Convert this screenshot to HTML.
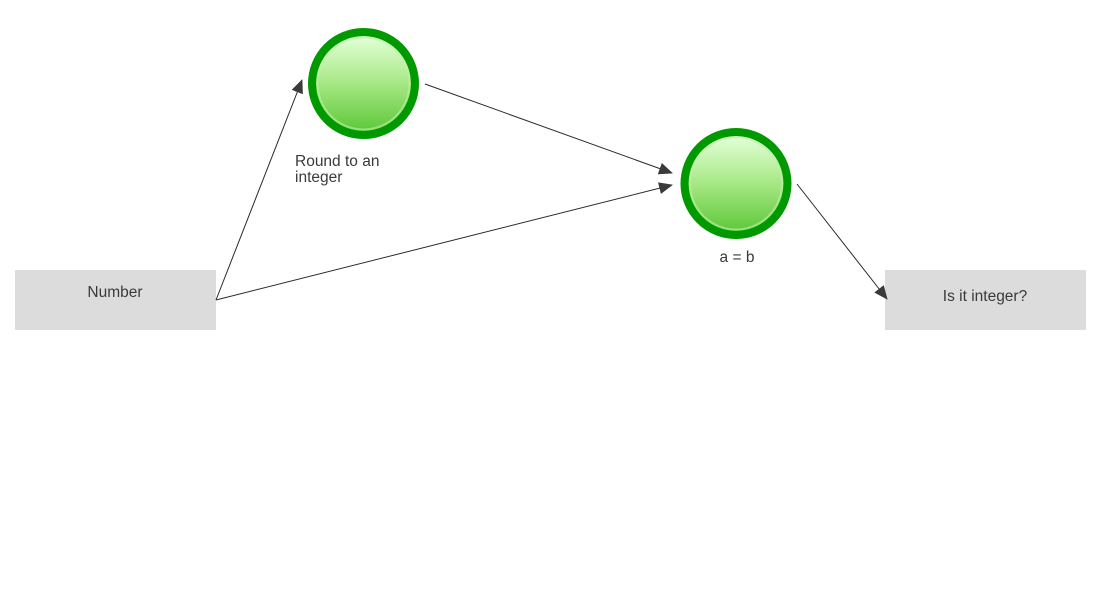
<!DOCTYPE html>
<html><head><meta charset="utf-8"><style>
html,body{margin:0;padding:0;background:#fff;width:1100px;height:600px;overflow:hidden}
svg{display:block}
text{font-family:"Liberation Sans",sans-serif;fill:#3a3a3a;font-size:15.5px}
</style></head><body>
<svg width="1100" height="600" viewBox="0 0 1100 600" xmlns="http://www.w3.org/2000/svg">
<defs>
<linearGradient id="g" x1="0" y1="0" x2="0" y2="1">
<stop offset="0" stop-color="#e4ffd8"/>
<stop offset="0.5" stop-color="#a6e884"/>
<stop offset="1" stop-color="#5ec83a"/>
</linearGradient>
<marker id="ah" viewBox="0 0 14 12" refX="13" refY="6" markerWidth="14" markerHeight="12" markerUnits="userSpaceOnUse" orient="auto">
<path d="M0,0 L14,6 L0,12 Z" fill="#3a3a3a"/>
</marker>
</defs>
<rect x="15" y="270" width="201" height="60" fill="#dcdcdc"/>
<rect x="885" y="270" width="201" height="60" fill="#dcdcdc"/>
<text x="115" y="297" text-anchor="middle">Number</text>
<text x="985" y="301" text-anchor="middle">Is it integer?</text>

<g stroke="#2a2a2a" stroke-width="1" fill="none">
<line x1="216" y1="300" x2="302" y2="80" marker-end="url(#ah)"/>
<line x1="216" y1="300" x2="672" y2="185" marker-end="url(#ah)"/>
<line x1="425" y1="84" x2="672" y2="173" marker-end="url(#ah)"/>
<line x1="797" y1="184" x2="887" y2="299" marker-end="url(#ah)"/>
</g>

<circle cx="363.5" cy="83.5" r="51.5" fill="#009900"/>
<circle cx="363.5" cy="83.5" r="47.5" fill="url(#g)"/>
<circle cx="363.5" cy="83.5" r="46" fill="none" stroke="#bff0a8" stroke-opacity="0.6" stroke-width="2"/>
<circle cx="363.5" cy="83.5" r="55.5" fill="none" stroke="#009900" stroke-width="0"/>
<circle cx="363.5" cy="83.5" r="51.5" fill="none" stroke="#009900" stroke-width="8"/>

<circle cx="736" cy="183.5" r="51.5" fill="#009900"/>
<circle cx="736" cy="183.5" r="47.5" fill="url(#g)"/>
<circle cx="736" cy="183.5" r="46" fill="none" stroke="#bff0a8" stroke-opacity="0.6" stroke-width="2"/>
<circle cx="736" cy="183.5" r="51.5" fill="none" stroke="#009900" stroke-width="8"/>

<text x="295" y="166">Round to an</text>
<text x="295" y="182">integer</text>
<text x="737" y="262" text-anchor="middle">a = b</text>
</svg>
</body></html>
